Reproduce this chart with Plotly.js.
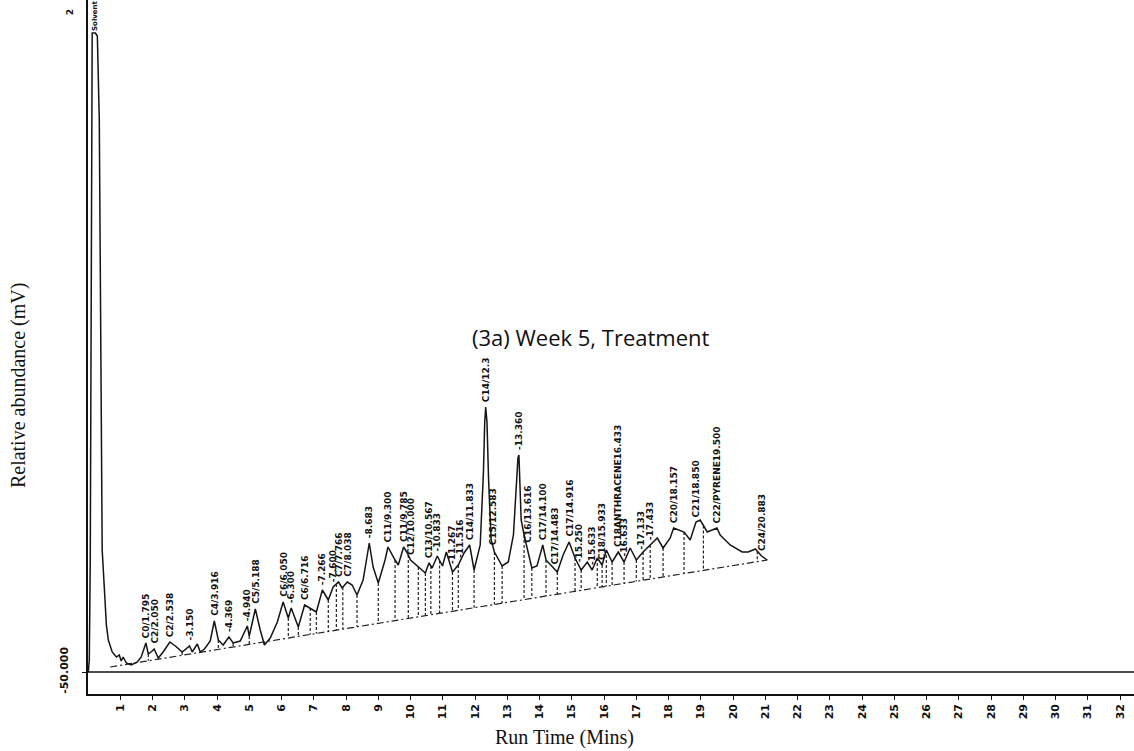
<!DOCTYPE html>
<html>
<head>
<meta charset="utf-8">
<script src="https://cdn.plot.ly/plotly-3.0.1.min.js"></script>
<style>
  html, body { margin: 0; padding: 0; background: #ffffff; }
  #chart { width: 1134px; height: 751px; }
</style>
</head>
<body>
<div id="chart"></div>
<script>
// Gas chromatogram trace: run time (min) against detector response (mV)
const runTime = [
  0.01, 0.04, 0.07, 0.10, 0.12, 0.13, 0.23, 0.29, 0.35, 0.38, 0.41, 0.44, 0.51, 0.57, 0.63, 0.75, 0.88,
  0.97, 1.03, 1.09, 1.19, 1.34, 1.53, 1.65, 1.795, 1.87, 1.99, 2.05, 2.18, 2.33, 2.538, 2.71, 2.92,
  3.15, 3.23, 3.39, 3.48, 3.61, 3.79, 3.916, 4.04, 4.19, 4.369, 4.50, 4.72, 4.94, 5.00, 5.12, 5.188,
  5.34, 5.47, 5.65, 5.87, 6.05, 6.21, 6.30, 6.52, 6.716, 6.89, 7.08, 7.266, 7.45, 7.60, 7.766, 7.88,
  8.038, 8.19, 8.34, 8.53, 8.63, 8.72, 8.84, 9.00, 9.21, 9.30, 9.52, 9.62, 9.785, 9.90, 10.00, 10.24,
  10.46, 10.57, 10.67, 10.83, 10.99, 11.11, 11.30, 11.48, 11.66, 11.833, 11.97, 12.16, 12.26, 12.30,
  12.33, 12.37, 12.42, 12.50, 12.60, 12.84, 13.03, 13.19, 13.28, 13.33, 13.36, 13.43, 13.52, 13.616,
  13.76, 13.92, 14.10, 14.20, 14.36, 14.55, 14.73, 14.916, 15.10, 15.29, 15.48, 15.63, 15.79, 15.94,
  16.07, 16.25, 16.44, 16.62, 16.81, 17.00, 17.21, 17.43, 17.65, 17.83, 18.05, 18.157, 18.48, 18.67,
  18.85, 18.98, 19.20, 19.50, 19.60, 19.91, 20.28, 20.47, 20.69, 20.883, 21.06
];
const signal = [
  -50, -38, 62, 422, 582, 589, 589, 586, 502, 322, 152, 72, 32, -3, -18, -30, -35,
  -33, -39, -35, -41, -43, -40, -35, -21, -32, -29, -27, -36, -30, -20, -24, -30,
  -24, -30, -22, -30, -27, -19, 1, -18, -23, -15, -21, -19, -4, -14, 2, 13,
  -8, -23, -16, 0, 20, 4, 14, -5, 17, 14, 10, 32, 22, 35, 40, 34,
  40, 37, 27, 42, 62, 79, 55, 39, 62, 75, 62, 57, 75, 69, 62, 55,
  49, 59, 54, 66, 56, 70, 50, 57, 69, 77, 52, 77, 150, 200,
  215, 200, 142, 82, 70, 56, 60, 87, 142, 164, 167, 102, 87, 74,
  54, 56, 77, 62, 56, 50, 67, 80, 64, 52, 60, 52, 64, 57,
  72, 60, 70, 60, 74, 62, 70, 77, 84, 74, 84, 94, 90, 82,
  100, 102, 90, 94, 87, 77, 70, 70, 73, 66, 62
];

// Integration baseline drawn by the data system (start and end points)
const baselineTime = [0.69, 21.06];
const baselineSignal = [-45, 62];

// Drop-line positions (valleys where peaks were split)
const dropTimes = [
  1.87, 2.18, 2.92, 3.48, 4.04, 4.50, 5.00, 5.47, 6.21, 6.52, 6.89, 7.08, 7.45, 7.70, 7.90,
  8.34, 9.00, 9.52, 9.93, 10.24, 10.46, 10.63, 10.90, 11.30, 11.48, 11.97, 12.60, 12.84,
  13.52, 13.76, 14.20, 14.55, 15.10, 15.29, 15.79, 15.94, 16.07, 16.25, 16.62, 17.00, 17.21,
  17.43, 17.83, 18.48, 19.08, 20.75
];

// Peak annotations printed by the data system
const peakNames = [
  'C0/1.795', 'C2/2.050', 'C2/2.538', '-3.150', 'C4/3.916', '-4.369', '-4.940', 'C5/5.188',
  'C6/6.050', '-6.300', 'C6/6.716', '-7.266', '-7.600', 'C7/7.766', 'C7/8.038', '-8.683',
  'C11/9.300', 'C11/9.785', 'C12/10.000', 'C13/10.567', '-10.833', '-11.267', '-11.516',
  'C14/11.833', 'C14/12.3', 'C15/12.583', '-13.360', 'C16/13.616', 'C17/14.100', 'C17/14.483',
  'C17/14.916', '-15.250', '-15.633', 'C18/15.933', 'C18ANTHRACENE16.433', '-16.633', '-17.133',
  '-17.433', 'C20/18.157', 'C21/18.850', 'C22/PYRENE19.500', 'C24/20.883'
];
const peakTimes = [
  1.795, 2.05, 2.538, 3.15, 3.916, 4.369, 4.94, 5.188,
  6.05, 6.30, 6.716, 7.266, 7.60, 7.766, 8.038, 8.72,
  9.30, 9.785, 10.00, 10.567, 10.833, 11.267, 11.516,
  11.833, 12.33, 12.583, 13.36, 13.616, 14.10, 14.483,
  14.916, 15.25, 15.633, 15.933, 16.433, 16.633, 17.133,
  17.433, 18.157, 18.85, 19.50, 20.883
];

const xTicks = [];
for (let k = 1; k <= 32; k++) xTicks.push(k);

const lowerLimit = -50;   // lower signal limit of the recorder scale

function signalAt(t) {
  for (let i = 1; i < runTime.length; i++) {
    if (t <= runTime[i]) {
      const f = (t - runTime[i - 1]) / (runTime[i] - runTime[i - 1]);
      return signal[i - 1] + f * (signal[i] - signal[i - 1]);
    }
  }
  return signal[signal.length - 1];
}
function baselineAt(t) {
  const f = (t - baselineTime[0]) / (baselineTime[1] - baselineTime[0]);
  return baselineSignal[0] + f * (baselineSignal[1] - baselineSignal[0]);
}
function apexNear(t) {
  let best = signalAt(t);
  for (let i = 0; i < runTime.length; i++) {
    if (Math.abs(runTime[i] - t) <= 0.06) best = Math.max(best, signal[i]);
  }
  return best;
}

// drop lines as one broken trace
const dropX = [], dropY = [];
dropTimes.forEach(t => {
  dropX.push(t, t, null);
  dropY.push(signalAt(t), baselineAt(t), null);
});

const traces = [
  {
    x: dropX, y: dropY, mode: 'lines', hoverinfo: 'skip',
    line: { color: '#222222', width: 1.2, dash: '3px,2px' }, showlegend: false
  },
  {
    x: baselineTime, y: baselineSignal, mode: 'lines', hoverinfo: 'skip',
    line: { color: '#222222', width: 1.2, dash: '7px,3px,2px,3px' }, showlegend: false
  },
  {
    x: runTime, y: signal, mode: 'lines',
    line: { color: '#151515', width: 1.5 }, showlegend: false
  }
];

const labelFont = {
  family: 'DejaVu Sans', stretch: 'condensed', weight: 'bold',
  size: 9, color: '#111111'
};
const serifFont = { family: 'Liberation Serif, Times New Roman, serif', size: 20, color: '#111111' };

const annotations = peakNames.map((name, i) => ({
  x: peakTimes[i], y: apexNear(peakTimes[i]), xref: 'x', yref: 'y',
  text: name, textangle: -90, showarrow: false,
  xanchor: 'center', yanchor: 'bottom', yshift: 3, font: labelFont
}));

annotations.push({
  x: 0.2, y: 589, xref: 'x', yref: 'y', text: 'Solvent', textangle: -90,
  showarrow: false, xanchor: 'center', yanchor: 'bottom', yshift: 0,
  font: Object.assign({}, labelFont, { size: 7 })
});
annotations.push({
  x: -0.017, y: 1, xref: 'paper', yref: 'paper', text: '2', textangle: -90,
  showarrow: false, xanchor: 'center', yanchor: 'top', yshift: -7,
  font: Object.assign({}, labelFont, { size: 9 })
});
annotations.push({
  x: 15.6, y: 285, xref: 'x', yref: 'y', text: '(3a) Week 5, Treatment',
  showarrow: false, xanchor: 'center', yanchor: 'middle',
  font: { family: 'Open Sans, Lato, sans-serif', size: 22, color: '#111111' }
});
// axis titles
annotations.push({
  x: 0.456, y: -0.062, xref: 'paper', yref: 'paper', text: 'Run Time (Mins)',
  showarrow: false, xanchor: 'center', yanchor: 'middle', font: serifFont
});
annotations.push({
  x: -0.067, y: 0.445, xref: 'paper', yref: 'paper', text: 'Relative abundance (mV)',
  textangle: -90, showarrow: false, xanchor: 'center', yanchor: 'middle', font: serifFont
});

const tickFont = { family: 'DejaVu Sans', stretch: 'condensed', weight: 'bold', size: 11, color: '#111111' };

const layout = {
  width: 1134, height: 751,
  margin: { l: 88, r: 0, t: 0, b: 57 },
  paper_bgcolor: '#ffffff', plot_bgcolor: '#ffffff',
  xaxis: {
    range: [0, 32.43], showgrid: false, zeroline: false,
    showline: true, linecolor: '#111111', linewidth: 1.6,
    tickmode: 'array', tickvals: xTicks, ticktext: xTicks.map(String),
    ticks: 'outside', ticklen: 4, tickcolor: '#111111', tickangle: -90,
    tickfont: tickFont
  },
  yaxis: {
    range: [-72, 622], showgrid: false, zeroline: false,
    showline: true, linecolor: '#111111', linewidth: 1.6,
    tickmode: 'array', tickvals: [lowerLimit], ticktext: ['-50.000'],
    ticks: 'outside', ticklen: 4, tickcolor: '#111111', tickangle: -90,
    ticklabelstandoff: 10, tickfont: tickFont
  },
  shapes: [{
    type: 'line', xref: 'paper', x0: 0, x1: 1, yref: 'y', y0: lowerLimit, y1: lowerLimit,
    line: { color: '#111111', width: 1.4 }
  }],
  annotations: annotations
};

Plotly.newPlot('chart', traces, layout, { staticPlot: true, displayModeBar: false });
</script>
</body>
</html>
